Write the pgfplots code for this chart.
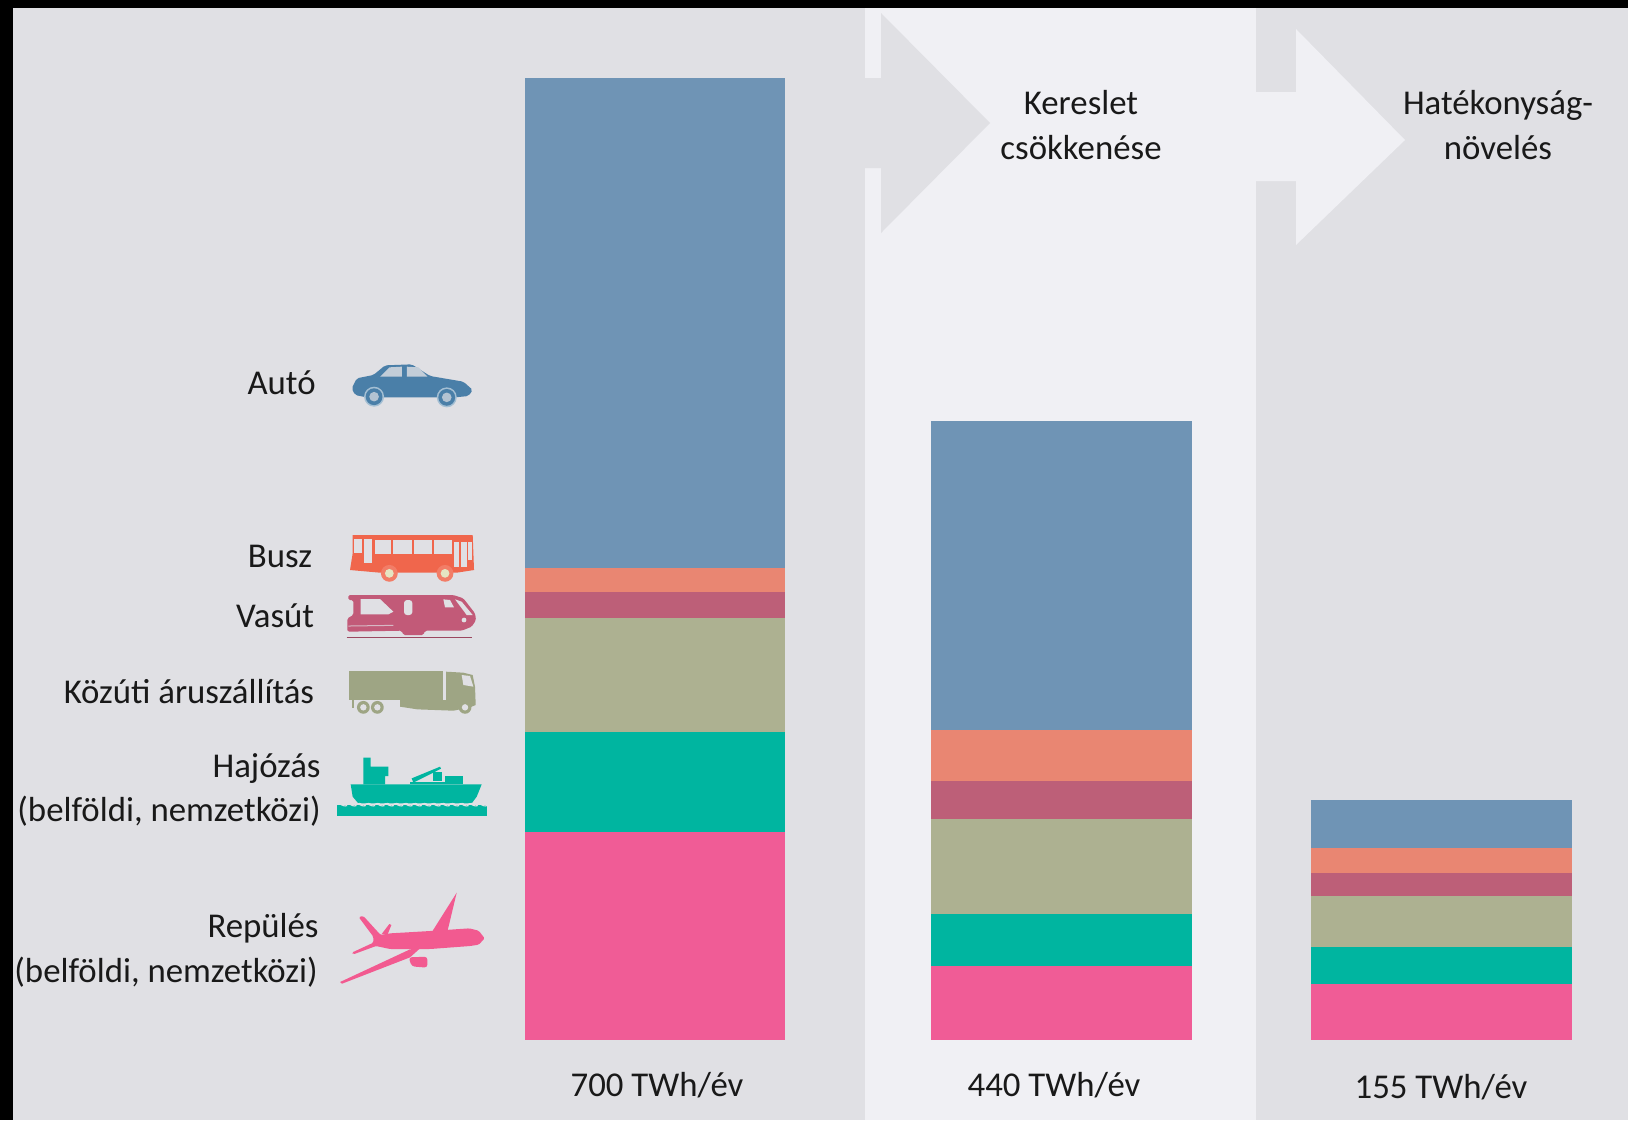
\documentclass[border=0pt]{standalone}
\usepackage{pgfplots}
\pgfplotsset{compat=1.18}
\usepackage{fontspec}
\setmainfont{Carlito}

\definecolor{panelDark}{HTML}{E0E0E4}
\definecolor{panelLight}{HTML}{F0F0F4}
\definecolor{auto}{HTML}{6F94B5}
\definecolor{busz}{HTML}{E98672}
\definecolor{vasut}{HTML}{BD5F78}
\definecolor{kozut}{HTML}{ADB191}
\definecolor{hajo}{HTML}{00B5A0}
\definecolor{repules}{HTML}{F05C96}
\definecolor{iconAuto}{HTML}{4A7FA8}
\definecolor{iconBusz}{HTML}{F0664C}
\definecolor{iconVasut}{HTML}{C25A78}
\definecolor{iconKozut}{HTML}{9EA584}
\definecolor{iconRepules}{HTML}{F25A90}

% Every column is a single stacked bar in its own hidden axis.
\pgfplotsset{
  oszlop/.style={
    hide axis, scale only axis, width=#1,
    xmin=0, xmax=1, ymin=0,
    ybar stacked, bar width=#1,
    anchor=south west, clip=false,
    every axis plot/.append style={draw=none},
  },
}
\newcommand{\felirat}[2]{\node[anchor=base east,inner sep=0pt,font=\fontsize{17.4}{20}\selectfont,text=black!90] at (#1) {#2};}
\newcommand{\kozep}[2]{\node[anchor=base,inner sep=0pt,font=\fontsize{17.4}{20}\selectfont,text=black!90] at (#1) {#2};}

\begin{document}
\begin{tikzpicture}[x=0.5pt,y=-0.5pt]
% page and background panels
\fill[black] (0,0) rectangle (1628,1120);
\fill[panelDark] (13,8) rectangle (865,1120);
\fill[panelLight] (865,8) rectangle (1256,1120);
\fill[panelDark] (1256,8) rectangle (1628,1120);
% step arrows
\fill[panelDark] (865,78) -- (881,78) -- (881,13) -- (990,123) -- (881,233) -- (881,168) -- (865,168) -- cycle;
\fill[panelLight] (1256,92) -- (1296,92) -- (1296,29) -- (1405,140) -- (1296,245) -- (1296,181) -- (1256,181) -- cycle;

% bars
\coordinate (a) at (525,1040);
\coordinate (b) at (931,1040);
\coordinate (c) at (1311,1040);

\begin{axis}[oszlop=130pt, at={(a)}, height=481pt, ymax=700]
\addplot[fill=repules] coordinates {(0.5,151.1)};
\addplot[fill=hajo]    coordinates {(0.5,72.8)};
\addplot[fill=kozut]   coordinates {(0.5,83.2)};
\addplot[fill=vasut]   coordinates {(0.5,19.1)};
\addplot[fill=busz]    coordinates {(0.5,17.0)};
\addplot[fill=auto]    coordinates {(0.5,356.8)};
\end{axis}

\begin{axis}[oszlop=130.5pt, at={(b)}, height=309.75pt, ymax=440]
\addplot[fill=repules] coordinates {(0.5,52.6)};
\addplot[fill=hajo]    coordinates {(0.5,36.7)};
\addplot[fill=kozut]   coordinates {(0.5,67.7)};
\addplot[fill=vasut]   coordinates {(0.5,27.0)};
\addplot[fill=busz]    coordinates {(0.5,36.2)};
\addplot[fill=auto]    coordinates {(0.5,219.8)};
\end{axis}

\begin{axis}[oszlop=130.5pt, at={(c)}, height=120pt, ymax=155]
\addplot[fill=repules] coordinates {(0.5,36.4)};
\addplot[fill=hajo]    coordinates {(0.5,23.7)};
\addplot[fill=kozut]   coordinates {(0.5,32.9)};
\addplot[fill=vasut]   coordinates {(0.5,14.9)};
\addplot[fill=busz]    coordinates {(0.5,16.0)};
\addplot[fill=auto]    coordinates {(0.5,31.1)};
\end{axis}

% column totals and step titles
\kozep{657,1096}{700 TWh/év}
\kozep{1054,1096}{440 TWh/év}
\kozep{1441,1098}{155 TWh/év}
\kozep{1081,114}{Kereslet}
\kozep{1081,159}{csökkenése}
\kozep{1498,114}{Hatékonyság-}
\kozep{1498,159}{növelés}

% category labels
\felirat{316,394}{Autó}
\felirat{312.5,567}{Busz}
\felirat{314.5,627}{Vasút}
\felirat{314.5,703}{Közúti áruszállítás}
\felirat{321,777}{Hajózás}
\felirat{321,821}{(belföldi, nemzetközi)}
\felirat{319,937}{Repülés}
\felirat{318,982}{(belföldi, nemzetközi)}

% car
\begin{scope}[shift={(0,340)},x=0.1667pt,y=-0.1667pt]
\fill[iconAuto,rounded corners=1pt] (1055,145) -- (1070,115) -- (1120,105) -- (1155,76) -- (1235,73) -- (1290,108) -- (1390,125) -- (1418,150) -- (1405,168) -- (1365,172) -- (1100,172) -- (1065,165) -- cycle;
\fill[panelDark!80!iconAuto] (1140,110) -- (1168,82) -- (1205,80) -- (1205,110) -- cycle;
\fill[panelDark!80!iconAuto] (1220,80) -- (1255,82) -- (1282,110) -- (1220,110) -- cycle;
\foreach \xx/\yy in {1122/170,1340/172}{
  \fill[iconAuto!50!white] (\xx,\yy) circle[radius=5pt];
  \fill[iconAuto] (\xx,\yy) circle[radius=4.2pt];
  \fill[panelDark!70!iconAuto] (\xx,\yy) circle[radius=2.4pt];
}
\end{scope}

% bus
\begin{scope}[shift={(330,520)},x=0.1667pt,y=-0.1667pt]
\fill[iconBusz] (68,45) -- (428,45) -- (432,150) -- (380,158) -- (150,158) -- (60,150) -- (68,100) -- cycle;
\fill[panelDark] (72,58) rectangle (95,100);
\fill[panelDark] (102,58) rectangle (126,130);
\fill[panelDark] (135,60) rectangle (183,103);
\fill[panelDark] (190,60) rectangle (245,103);
\fill[panelDark] (252,60) rectangle (305,103);
\fill[panelDark] (312,60) rectangle (365,103);
\fill[panelDark] (372,65) rectangle (387,140);
\fill[panelDark] (393,65) rectangle (410,140);
\fill[panelDark] (415,65) rectangle (425,120);
\foreach \xx in {178,345}{
  \fill[iconBusz!85!white] (\xx,160) circle[radius=4.2pt];
  \fill[panelDark!85!yellow] (\xx,160) circle[radius=2.2pt];
}
\end{scope}

% train
\begin{scope}[shift={(330,520)},x=0.1667pt,y=-0.1667pt]
\fill[iconVasut,rounded corners=0.8pt] (55,225) -- (370,225) -- (400,235) -- (435,280) -- (438,300) -- (425,320) -- (395,332) -- (285,332) -- (280,345) -- (220,345) -- (215,332) -- (52,335) -- (52,295) -- (70,285) -- (70,240) -- (55,240) -- cycle;
\fill[panelDark] (92,237) -- (150,237) -- (190,275) -- (175,283) -- (92,283) -- cycle;
\fill[panelDark,rounded corners=1.5pt] (222,240) rectangle (247,285);
\fill[panelDark] (340,238) -- (360,240) -- (372,262) -- (345,262) -- cycle;
\fill[panelDark] (375,238) -- (395,245) -- (428,285) -- (410,285) -- cycle;
\fill[panelDark] (402,300) circle[radius=1.2pt];
\draw[panelDark!70!iconVasut,line width=0.5pt] (55,318) -- (190,316);
\draw[iconVasut!80!black,line width=0.5pt] (50,352) -- (425,352);
\end{scope}

% truck
\begin{scope}[shift={(330,650)},x=0.1667pt,y=-0.1667pt]
\fill[iconKozut] (58,62) rectangle (340,150);
\fill[iconKozut] (348,65) -- (400,68) -- (428,75) -- (435,110) -- (437,165) -- (420,172) -- (370,182) -- (262,178) -- (210,170) -- (210,150) -- (348,150) -- cycle;
\fill[iconKozut] (65,150) rectangle (72,175);
\fill[panelDark] (395,75) -- (420,78) -- (430,110) -- (400,105) -- cycle;
\foreach \xx in {100,142,405}{
  \fill[iconKozut] (\xx,172) circle[radius=3.2pt];
  \fill[panelDark] (\xx,172) circle[radius=1.6pt];
}
\end{scope}

% ship
\begin{scope}[shift={(330,650)},x=0.1667pt,y=-0.1667pt]
\fill[hajo] (62,403) -- (455,403) -- (440,440) -- (425,460) -- (85,460) -- (68,440) -- cycle;
\fill[hajo] (100,323) -- (122,323) -- (122,350) -- (175,350) -- (175,378) -- (165,378) -- (165,403) -- (100,403) -- cycle;
\fill[hajo] (345,378) rectangle (398,403);
\fill[hajo] (245,385) -- (330,350) -- (333,356) -- (250,398) -- cycle;
\fill[hajo] (308,365) rectangle (335,392);
\fill[hajo] (240,395) rectangle (345,403);
\fill[hajo] (20,464) rectangle (472,497);
\draw[panelDark,line width=0.55pt] (20,464)
  \foreach \i in {0,...,15}{ .. controls +(7,-5) and +(7,-5) .. ++(14,0) .. controls +(7,5) and +(7,5) .. ++(14,0) };
\end{scope}

% aeroplane
\begin{scope}[shift={(330,880)},x=0.1667pt,y=-0.1667pt]
% lower wing
\fill[iconRepules] (30,306) -- (240,208) -- (270,205) -- (240,232) -- (36,311) -- cycle;
% engine
\fill[iconRepules,rounded corners=1.5pt] (236,232) -- (292,230) -- (292,263) -- (245,259) -- cycle;
% upper wing
\fill[iconRepules] (305,157) -- (380,38) -- (352,155) -- cycle;
% fuselage, tail fin and tailplane
\fill[iconRepules,rounded corners=0.7pt] (464,175) -- (446,152) -- (418,145) -- (300,153) -- (180,160) -- (152,165) -- (100,108) -- (86,111) -- (130,170) -- (130,188) -- (65,218) -- (70,223) -- (138,198) -- (180,207) -- (300,207) -- (420,198) -- (446,194) -- cycle;
\fill[iconRepules] (155,162) -- (178,132) -- (184,135) -- (172,165) -- cycle;
\end{scope}
\end{tikzpicture}
\end{document}
